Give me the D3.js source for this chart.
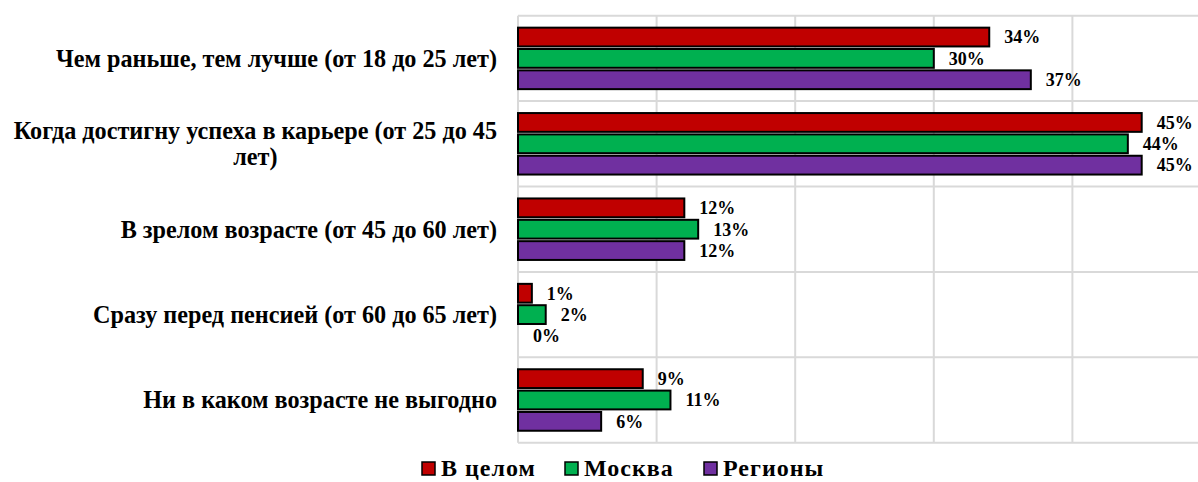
<!DOCTYPE html>
<html><head><meta charset="utf-8">
<script src="https://cdn.jsdelivr.net/npm/d3@7"></script>
<style>body{margin:0;background:#fff}svg{display:block}text{font-family:"Liberation Serif","Times New Roman",serif;font-weight:bold;fill:#000}</style>
</head><body><svg id="c" width="1198" height="482"></svg>
<script>
const categories = [
  ["Чем раньше, тем лучше (от 18 до 25 лет)"],
  ["Когда достигну успеха в карьере (от 25 до 45", "лет)"],
  ["В зрелом возрасте (от 45 до 60 лет)"],
  ["Сразу перед пенсией (от 60 до 65 лет)"],
  ["Ни в каком возрасте не выгодно"]
];
const seriesNames = ["В целом", "Москва", "Регионы"];
const seriesColors = ["#C00000", "#00B050", "#7030A0"];
const vTotal = [34, 45, 12, 1, 9];
const vMoscow = [30, 44, 13, 2, 11];
const vRegions = [37, 45, 12, 0, 6];
const xTicks = [0, 10, 20, 30, 40, 50];

(function () {
const svg = d3.select("#c");
const pLeft = 518, pRight = 1211, pTop = 15.7, pBottom = 442.7;
const x = d3.scaleLinear().domain([0, 50]).range([pLeft, pRight]);
const y = d3.scaleBand().domain(d3.range(categories.length)).range([pTop, pBottom]).paddingInner(0.28).paddingOuter(0.14);
const ys = d3.scaleBand().domain(d3.range(3)).range([0, y.bandwidth()]).paddingInner(0.12);
const step = y.step();

const g = svg.append("g");
g.selectAll(".vg").data(xTicks).join("line")
  .attr("x1", d => x(d)).attr("x2", d => x(d)).attr("y1", pTop).attr("y2", pBottom)
  .attr("stroke", "#d9d9d9").attr("stroke-width", 2);
g.selectAll(".hg").data(d3.range(categories.length + 1)).join("line")
  .attr("x1", pLeft).attr("x2", 1198).attr("y1", i => pTop + i * step).attr("y2", i => pTop + i * step)
  .attr("stroke", "#d9d9d9").attr("stroke-width", 2);

const series = [vTotal, vMoscow, vRegions];
series.forEach((vals, s) => {
  const gs = svg.append("g");
  gs.selectAll("rect").data(vals.map((v, i) => ({v, i})).filter(d => d.v > 0)).join("rect")
    .attr("x", x(0)).attr("y", d => y(d.i) + ys(s))
    .attr("width", d => x(d.v) - x(0)).attr("height", ys.bandwidth())
    .attr("fill", seriesColors[s]).attr("stroke", "#000").attr("stroke-width", 2);
  gs.selectAll("text").data(vals).join("text")
    .attr("x", d => x(d) + 15).attr("y", (d, i) => y(i) + ys(s) + ys.bandwidth() / 2)
    .attr("dy", "0.35em").attr("font-size", 18)
    .text(d => d + "%");
});

const labelRight = 497;
const catSize = 24.2;
categories.forEach((lines, i) => {
  const cy = y(i) + y.bandwidth() / 2;
  const lh = 26;
  const t = svg.append("text").attr("font-size", catSize);
  if (lines.length === 1) {
    t.attr("x", labelRight).attr("y", cy).attr("dy", "0.35em").attr("text-anchor", "end").text(lines[0]);
  } else {
    t.attr("x", labelRight).attr("y", cy - lh / 2).attr("dy", "0.35em").attr("text-anchor", "end").text(lines[0]);
    const w = t.node().getComputedTextLength();
    svg.append("text").attr("font-size", catSize).attr("x", labelRight - w / 2).attr("y", cy + lh / 2)
      .attr("dy", "0.35em").attr("text-anchor", "middle").text(lines[1]);
  }
});

const lx = [422, 565, 704];
seriesNames.forEach((n, i) => {
  svg.append("rect").attr("x", lx[i]).attr("y", 462).attr("width", 13).attr("height", 13)
    .attr("fill", seriesColors[i]).attr("stroke", "#000").attr("stroke-width", 1.5);
  svg.append("text").attr("x", lx[i] + 19).attr("y", 468).attr("dy", "0.35em").attr("font-size", 24)
    .attr("letter-spacing", 1).text(n);
});
})();
</script></body></html>
